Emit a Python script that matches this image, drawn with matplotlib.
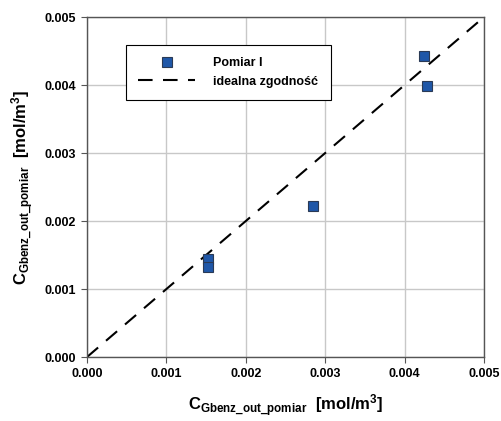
import matplotlib
matplotlib.use("Agg")
import matplotlib.pyplot as plt
from matplotlib.ticker import FormatStrFormatter

plt.rcParams['font.family'] = ['Liberation Sans', 'DejaVu Sans']
plt.rcParams['mathtext.fontset'] = 'custom'
plt.rcParams['mathtext.rm'] = 'Liberation Sans:bold'
plt.rcParams['mathtext.default'] = 'rm'

x_meas = [0.00152, 0.00152, 0.00285, 0.00425, 0.00428]
y_meas = [0.00144, 0.00132, 0.00222, 0.00442, 0.00398]
ideal = [0.0, 0.005]
ticks = [0.0, 0.001, 0.002, 0.003, 0.004, 0.005]

fig = plt.figure(figsize=(5.01, 4.21), dpi=100)
ax = fig.add_axes([0.1737, 0.152, 0.7924, 0.8076])

ln, = ax.plot(ideal, ideal, color='black', lw=1.5, dashes=(7, 5), label='idealna zgodność', zorder=2)
pts, = ax.plot(x_meas, y_meas, ls='none', marker='s', ms=7.5, mfc='#1F57A8', mec='#2a3a55', mew=0.8,
               label='Pomiar I', zorder=3)

ax.set_xlim(0, 0.005)
ax.set_ylim(0, 0.005)
ax.set_xticks(ticks)
ax.set_yticks(ticks)
ax.xaxis.set_major_formatter(FormatStrFormatter('%.3f'))
ax.yaxis.set_major_formatter(FormatStrFormatter('%.3f'))
ax.grid(True, color='#c8c8c8', lw=1.0)
ax.set_axisbelow(True)
for s in ax.spines.values():
    s.set_color('#555555')
    s.set_linewidth(1.0)
ax.tick_params(direction='out', length=4, width=0.8, color='#555555', labelsize=9, pad=4)
for lab in ax.get_xticklabels() + ax.get_yticklabels():
    lab.set_fontweight('bold')

ax.set_xlabel(r'$\mathregular{C_{Gbenz\_out\_pomiar}}$  [mol/m$^{3}$]', fontsize=12, fontweight='bold', labelpad=9)
ax.set_ylabel(r'$\mathregular{C_{Gbenz\_out\_pomiar}}$  [mol/m$^{3}$]', fontsize=12, fontweight='bold', labelpad=6)

leg = ax.legend([pts, ln], ['Pomiar I', 'idealna zgodność'], loc='upper left',
                bbox_to_anchor=(0.098, 0.918), borderaxespad=0, frameon=True, fancybox=False,
                edgecolor='black', framealpha=1, prop={'weight': 'bold', 'size': 9},
                handlelength=4.5, handletextpad=1.5, borderpad=1.0, labelspacing=0.5)
leg.get_frame().set_linewidth(0.8)

fig.savefig('out.png', dpi=100)
